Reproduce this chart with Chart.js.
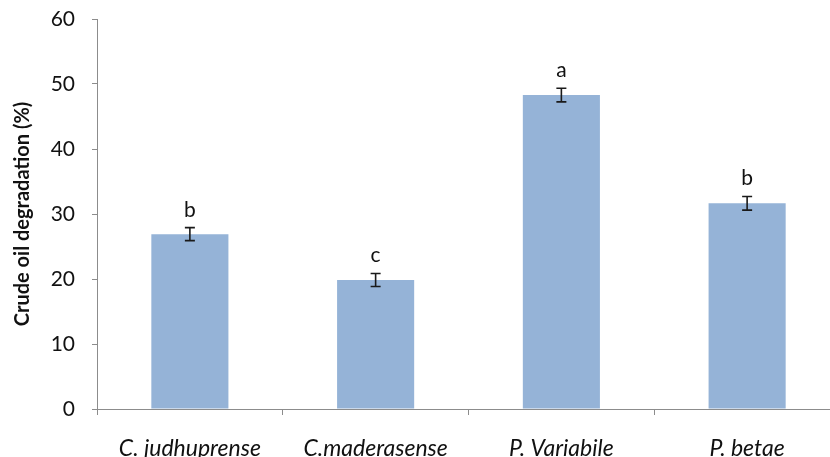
<!DOCTYPE html>
<html>
<head>
<meta charset="utf-8">
<script src="https://cdn.jsdelivr.net/npm/chart.js@4.4.0/dist/chart.umd.min.js"></script>
<style>
  html, body { margin: 0; padding: 0; background: #fff; overflow: hidden; }
  #wrap { width: 850px; height: 457px; }
</style>
</head>
<body>
<div id="wrap"><canvas id="oilChart" width="850" height="457"></canvas></div>
<script>
// ---- data ----
const strains = ["C. judhuprense", "C.maderasense", "P. Variabile", "P. betae"];
const degradation = [26.9, 19.85, 48.3, 31.65];
const errors = [1.0, 1.0, 1.05, 1.05];
const letters = ["b", "c", "a", "b"];
const yTicks = [0, 10, 20, 30, 40, 50, 60];

const FONT = "Lato, 'Open Sans', sans-serif";
const axisGrey = "#8c8c8c";

// error bars + significance letters
const errorBarPlugin = {
    id: "errorBars",
    afterDatasetsDraw(chart) {
        const ctx = chart.ctx;
        const yScale = chart.scales.y;
        const bars = chart.getDatasetMeta(0).data;
        ctx.save();
        bars.forEach((bar, i) => {
            const top = yScale.getPixelForValue(degradation[i] + errors[i]);
            const bottom = yScale.getPixelForValue(degradation[i] - errors[i]);
            const x = bar.x;
            ctx.strokeStyle = "#1a1a1a";
            ctx.lineWidth = 1.6;
            ctx.beginPath();
            ctx.moveTo(x, top);
            ctx.lineTo(x, bottom);
            ctx.moveTo(x - 5, top);
            ctx.lineTo(x + 5, top);
            ctx.moveTo(x - 5, bottom);
            ctx.lineTo(x + 5, bottom);
            ctx.stroke();

            ctx.fillStyle = "#111";
            ctx.font = "21px " + FONT;
            ctx.textAlign = "center";
            ctx.textBaseline = "alphabetic";
            ctx.fillText(letters[i], x, top - 11);
        });
        ctx.restore();
    }
};

new Chart(document.querySelector("#oilChart"), {
    type: "bar",
    data: {
        labels: strains,
        datasets: [{
            data: degradation,
            backgroundColor: "#95b3d7",
            borderWidth: 0,
            categoryPercentage: 1,
            barPercentage: 0.415
        }]
    },
    options: {
        responsive: false,
        animation: false,
        layout: { padding: { top: 19, right: 10, left: 0, bottom: 0 } },
        plugins: {
            legend: { display: false },
            tooltip: { enabled: false }
        },
        scales: {
            x: {
                grid: {
                    offset: true,
                    drawOnChartArea: false,
                    drawTicks: true,
                    tickLength: 6,
                    color: axisGrey
                },
                border: { color: axisGrey, width: 1 },
                ticks: {
                    color: "#111",
                    padding: 20,
                    maxRotation: 0,
                    font: { family: FONT, size: 23, style: "italic" }
                },
                afterFit(scale) {
                    scale.height = 48;
                    scale.paddingLeft = 0;
                    scale.paddingRight = 0;
                }
            },
            y: {
                min: 0,
                max: 60,
                afterBuildTicks(scale) {
                    scale.ticks = yTicks.map(v => ({ value: v }));
                },
                grid: {
                    drawOnChartArea: false,
                    drawTicks: true,
                    tickLength: 5,
                    color: axisGrey
                },
                border: { color: axisGrey, width: 1 },
                ticks: {
                    color: "#111",
                    padding: 17,
                    font: { family: FONT, size: 21 }
                },
                title: {
                    display: true,
                    text: "Crude oil degradation (%)",
                    color: "#111",
                    padding: { top: 11, bottom: 4 },
                    font: { family: FONT, size: 20, weight: "bold" }
                },
                afterFit(scale) {
                    scale.width = 97;
                    scale.paddingTop = 0;
                    scale.paddingBottom = 0;
                }
            }
        }
    },
    plugins: [errorBarPlugin]
});
</script>
</body>
</html>
